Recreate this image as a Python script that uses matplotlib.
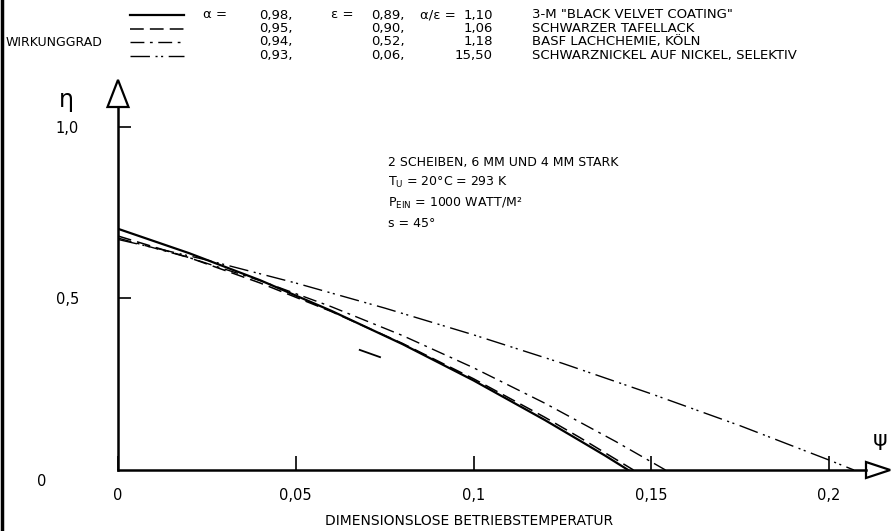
import matplotlib.pyplot as plt
from matplotlib.patches import Polygon
from matplotlib.lines import Line2D

# Kurven: Wirkungsgrad eta ueber dimensionsloser Betriebstemperatur psi
psi_solid = [0, 0.02, 0.04, 0.06, 0.08, 0.10, 0.12, 0.13, 0.137, 0.1435]
eta_solid = [0.703, 0.632, 0.553, 0.464, 0.367, 0.261, 0.146, 0.085, 0.042, 0.0]

psi_dashed = [0, 0.02, 0.04, 0.06, 0.08, 0.10, 0.12, 0.13, 0.145]
eta_dashed = [0.682, 0.619, 0.545, 0.462, 0.369, 0.266, 0.154, 0.094, 0.0]

psi_dashdot = [0, 0.02, 0.04, 0.06, 0.08, 0.10, 0.12, 0.14, 0.154]
eta_dashdot = [0.676, 0.619, 0.552, 0.476, 0.392, 0.298, 0.195, 0.083, 0.0]

psi_dd = [0, 0.025, 0.05, 0.075, 0.10, 0.125, 0.15, 0.175, 0.2, 0.207]
eta_dd = [0.672, 0.612, 0.545, 0.472, 0.394, 0.311, 0.222, 0.129, 0.029, 0.0]

# kleiner Strich im Original (Scan)
psi_stray = [0.068, 0.0737]
eta_stray = [0.35, 0.329]

# Legende
alpha_vals = ['0,98,', '0,95,', '0,94,', '0,93,']
eps_vals = ['0,89,', '0,90,', '0,52,', '0,06,']
ratio_vals = ['1,10', '1,06', '1,18', '15,50']
coatings = ['3-M "BLACK VELVET COATING"', 'SCHWARZER TAFELLACK',
            'BASF LACHCHEMIE, KÖLN', 'SCHWARZNICKEL AUF NICKEL, SELEKTIV']

xtick_vals = [0, 0.05, 0.1, 0.15, 0.2]
xtick_labels = ['0', '0,05', '0,1', '0,15', '0,2']
ytick_vals = [0.5, 1.0]
ytick_labels = ['0,5', '1,0']

W, H = 894, 531
styles = ['-', (0, (9, 4)), (0, (10, 4, 2, 4)), (0, (14, 4, 1.5, 2.5, 1.5, 4))]
widths = [1.6, 1.1, 1.0, 1.0]


def px(x, y):
    # pixel (von oben links) -> figure coords
    return x / W, 1 - y / H


fig = plt.figure(figsize=(W / 100, H / 100), dpi=100)
ax = fig.add_axes([118 / W, 61 / H, 748 / W, 363 / H])
ax.set_xlim(0, 0.2104)
ax.set_ylim(0, 1.058)

ax.plot(psi_solid, eta_solid, color='k', lw=widths[0], ls=styles[0])
ax.plot(psi_dashed, eta_dashed, color='k', lw=widths[1], ls=styles[1])
ax.plot(psi_dashdot, eta_dashdot, color='k', lw=widths[2], ls=styles[2])
ax.plot(psi_dd, eta_dd, color='k', lw=widths[3], ls=styles[3])
ax.plot(psi_stray, eta_stray, color='k', lw=1.3)

for s in ['top', 'right']:
    ax.spines[s].set_visible(False)
for s in ['left', 'bottom']:
    ax.spines[s].set_linewidth(1.8)

ax.set_xticks(xtick_vals)
ax.set_xticklabels(xtick_labels, fontsize=10.5)
ax.set_yticks(ytick_vals)
ax.set_yticklabels(ytick_labels, fontsize=10.5)
ax.tick_params(axis='x', direction='in', length=10, width=1.2, pad=13)
ax.tick_params(axis='y', direction='in', length=9, width=1.2, pad=28)

ax.set_xlabel('DIMENSIONSLOSE BETRIEBSTEMPERATUR', fontsize=10)
ax.xaxis.set_label_coords(0.47, -0.12)

# Pfeilspitzen der Achsen
ax.add_patch(Polygon([[-0.00295, 1.058], [0.00295, 1.058], [0, 1.137]], closed=True,
                     facecolor='white', edgecolor='k', lw=1.6, clip_on=False))
ax.add_patch(Polygon([[0.2104, -0.0233], [0.2104, 0.0233], [0.2172, 0]], closed=True,
                     facecolor='white', edgecolor='k', lw=1.6, clip_on=False))

fig.text(*px(66, 100), 'η', fontsize=17, ha='center', va='center')
fig.text(*px(880, 440), 'ψ', fontsize=16, ha='center', va='center')
fig.text(*px(42, 481), '0', fontsize=10.5, ha='center', va='center')

# Legende oben
rows_y = [15, 28.5, 42, 55.5]
for i in range(4):
    y = rows_y[i]
    x0, y0 = px(130, y)
    x1, _ = px(184, y)
    fig.add_artist(Line2D([x0, x1], [y0, y0], color='k', lw=widths[i], ls=styles[i]))
    fig.text(*px(293, y), alpha_vals[i], fontsize=9.5, ha='right', va='center')
    fig.text(*px(405, y), eps_vals[i], fontsize=9.5, ha='right', va='center')
    fig.text(*px(493, y), ratio_vals[i], fontsize=9.5, ha='right', va='center')
    fig.text(*px(532, y), coatings[i], fontsize=9.5, ha='left', va='center')
fig.text(*px(203, rows_y[0]), 'α =', fontsize=9.5, ha='left', va='center')
fig.text(*px(331, rows_y[0]), 'ε =', fontsize=9.5, ha='left', va='center')
fig.text(*px(420, rows_y[0]), 'α/ε =', fontsize=9.5, ha='left', va='center')
fig.text(*px(6, rows_y[2]), 'WIRKUNGGRAD', fontsize=9, ha='left', va='center')

# Randbedingungen
cond = ['2 SCHEIBEN, 6 MM UND 4 MM STARK',
        r'T$_\mathrm{U}$ = 20°C = 293 K',
        r'P$_\mathrm{EIN}$ = 1000 WATT/M²',
        's = 45°']
for i, t in enumerate(cond):
    fig.text(*px(388, 162 + 20.5 * i), t, fontsize=9, ha='left', va='center')

# Scanrand links
fig.add_artist(Line2D([0.002, 0.002], [0, 1], color='k', lw=2.5))

fig.savefig('out.png', dpi=100)
